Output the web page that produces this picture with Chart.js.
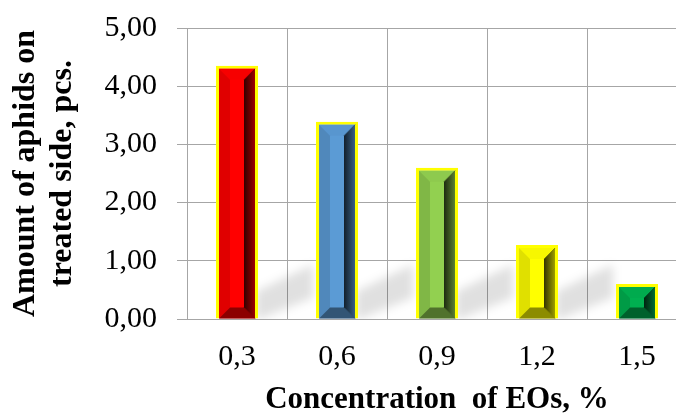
<!DOCTYPE html>
<html>
<head>
<meta charset="utf-8">
<script src="https://cdn.jsdelivr.net/npm/chart.js@4/dist/chart.umd.min.js"></script>
<style>
  html, body { margin: 0; padding: 0; background: #fff; overflow: hidden; }
  #wrap { width: 700px; height: 415px; }
</style>
</head>
<body>
<div id="wrap"><canvas id="aphidChart" width="700" height="415"></canvas></div>
<script>
// data
const concentrations = ['0,3', '0,6', '0,9', '1,2', '1,5'];
const aphidCounts = [4.35, 3.39, 2.60, 1.27, 0.60];
const yTicks = [0, 1, 2, 3, 4, 5];

// bar styles: face colour per bar
const faceColors = ['#ff0000', '#5b9bd5', '#92d050', '#ffff00', '#00b050'];
const rimColor = '#ffff00';
const gridColor = '#a6a6a6';
const serif = "'Liberation Serif', 'Times New Roman', serif";

function shade(hex, f) {
    const n = parseInt(hex.slice(1), 16);
    const r = Math.round(((n >> 16) & 255) * f);
    const g = Math.round(((n >> 8) & 255) * f);
    const b = Math.round((n & 255) * f);
    return 'rgb(' + r + ',' + g + ',' + b + ')';
}

function quad(ctx, pts, fill) {
    ctx.beginPath();
    ctx.moveTo(pts[0][0], pts[0][1]);
    for (let k = 1; k < pts.length; k++) ctx.lineTo(pts[k][0], pts[k][1]);
    ctx.closePath();
    ctx.fillStyle = fill;
    ctx.fill();
}

const bevelPlugin = {
    id: 'bevel',
    beforeDatasetsDraw(chart) {
        const ctx = chart.ctx;
        const area = chart.chartArea;
        ctx.save();
        ctx.beginPath();
        ctx.rect(area.left, area.top, area.right - area.left, area.bottom - area.top);
        ctx.clip();
        ctx.filter = 'blur(5px)';
        chart.getDatasetMeta(0).data.forEach((bar, i) => {
            if (i === aphidCounts.length - 1) return;
            const p = bar.getProps(['x', 'y', 'base', 'width'], true);
            const r = p.x + p.width / 2;
            const h = Math.min(p.base - p.y, 60);
            ctx.fillStyle = 'rgba(0,0,0,0.12)';
            ctx.beginPath();
            ctx.moveTo(r - 2, p.base + 2);
            ctx.lineTo(r - 2, p.base - h * 0.45);
            ctx.lineTo(r + 55, p.base - h * 0.9);
            ctx.lineTo(r + 55, p.base - h * 0.35);
            ctx.closePath();
            ctx.fill();
        });
        ctx.restore();
    },
    afterDatasetsDraw(chart) {
        const ctx = chart.ctx;
        const bw = 3;
        chart.getDatasetMeta(0).data.forEach((bar, i) => {
            const p = bar.getProps(['x', 'y', 'base', 'width'], true);
            const face = faceColors[i];
            const l = p.x - p.width / 2 + bw;
            const r = p.x + p.width / 2 - bw;
            const t = p.y + bw;
            const b = p.base;
            const e = Math.max(2, Math.min(11, (r - l) / 2 - 4, (b - t) / 2 - 4));
            ctx.save();
            // top
            quad(ctx, [[l, t], [r, t], [r - e, t + e], [l + e, t + e]], shade(face, 0.97));
            // left
            quad(ctx, [[l, t], [l + e, t + e], [l + e, b - e], [l, b]], shade(face, 0.88));
            // bottom
            quad(ctx, [[l, b], [l + e, b - e], [r - e, b - e], [r, b]], shade(face, 0.55));
            // right
            const g = ctx.createLinearGradient(r - e, 0, r, 0);
            g.addColorStop(0, shade(face, 0.2));
            g.addColorStop(1, shade(face, 0.62));
            quad(ctx, [[r, t], [r, b], [r - e, b - e], [r - e, t + e]], g);
            // diagonal creases
            ctx.strokeStyle = shade(face, 0.45);
            ctx.lineWidth = 0.8;
            ctx.beginPath();
            ctx.moveTo(r, t); ctx.lineTo(r - e, t + e);
            ctx.moveTo(r, b); ctx.lineTo(r - e, b - e);
            ctx.stroke();
            ctx.restore();
        });
    }
};

new Chart(document.getElementById('aphidChart').getContext('2d'), {
    type: 'bar',
    data: {
        labels: concentrations,
        datasets: [{
            data: aphidCounts,
            backgroundColor: faceColors,
            borderColor: rimColor,
            borderWidth: 3,
            borderSkipped: 'start',
            categoryPercentage: 1,
            barPercentage: 0.42
        }]
    },
    options: {
        responsive: false,
        animation: false,
        layout: { padding: { top: 28, right: 13, bottom: 0, left: 0 } },
        plugins: {
            legend: { display: false },
            tooltip: { enabled: false }
        },
        scales: {
            x: {
                grid: { color: gridColor, drawTicks: false },
                border: { color: gridColor },
                ticks: { color: '#000', padding: 20, font: { family: serif, size: 30 } },
                title: {
                    display: true,
                    text: 'Concentration  of EOs, %',
                    color: '#000',
                    padding: { top: 0, bottom: 0 },
                    font: { family: serif, size: 31, weight: 'bold', lineHeight: 1 }
                },
                afterFit(scale) {
                    scale.height = 96;
                    scale.paddingLeft = 0;
                    scale.paddingRight = 0;
                }
            },
            y: {
                min: 0,
                max: 5,
                afterBuildTicks(scale) { scale.ticks = yTicks.map(v => ({ value: v })); },
                grid: { color: gridColor, tickLength: 10 },
                border: { color: gridColor },
                ticks: {
                    color: '#000',
                    padding: 20,
                    font: { family: serif, size: 30 },
                    callback: v => v.toFixed(2).replace('.', ',')
                },
                title: {
                    display: true,
                    text: ['Amount of aphids on', 'treated side, pcs.'],
                    color: '#000',
                    padding: { top: 7, bottom: 0 },
                    font: { family: serif, size: 32, weight: 'bold', lineHeight: 1.16 }
                },
                afterFit(scale) {
                    scale.width = 187;
                    scale.paddingTop = 0;
                    scale.paddingBottom = 0;
                }
            }
        }
    },
    plugins: [bevelPlugin]
});
</script>
</body>
</html>
